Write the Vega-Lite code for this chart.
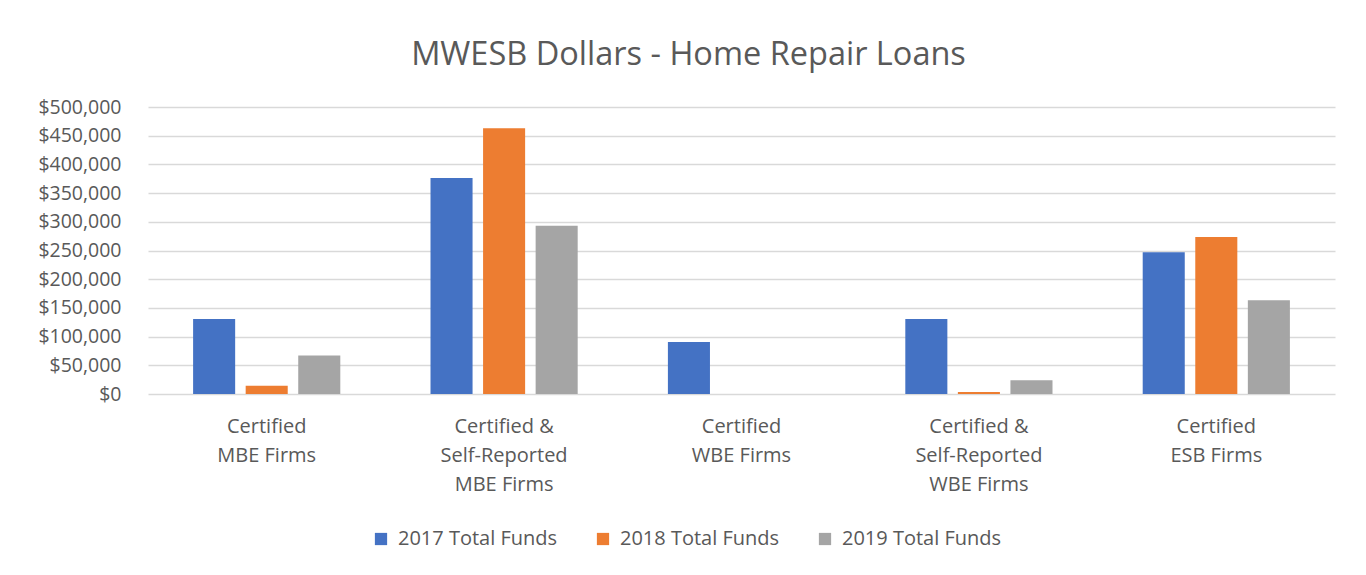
{
  "$schema": "https://vega.github.io/schema/vega-lite/v6.json",
  "autosize": {"type": "none"},
  "width": 1187,
  "height": 287,
  "padding": {"left": 148, "top": 107, "right": 31, "bottom": 181},
  "background": "white",
  "title": {
    "text": "MWESB Dollars - Home Repair Loans",
    "font": "Open Sans",
    "fontSize": 32.5,
    "fontWeight": "normal",
    "color": "#595959",
    "anchor": "middle",
    "dx": -53,
    "offset": 26
  },
  "data": {
    "values": [
      {"category": "Certified MBE Firms", "series": "2017 Total Funds", "amount": 130500},
      {"category": "Certified MBE Firms", "series": "2018 Total Funds", "amount": 14500},
      {"category": "Certified MBE Firms", "series": "2019 Total Funds", "amount": 67000},
      {"category": "Certified & Self-Reported MBE Firms", "series": "2017 Total Funds", "amount": 376500},
      {"category": "Certified & Self-Reported MBE Firms", "series": "2018 Total Funds", "amount": 463000},
      {"category": "Certified & Self-Reported MBE Firms", "series": "2019 Total Funds", "amount": 293000},
      {"category": "Certified WBE Firms", "series": "2017 Total Funds", "amount": 90500},
      {"category": "Certified WBE Firms", "series": "2018 Total Funds", "amount": 0},
      {"category": "Certified WBE Firms", "series": "2019 Total Funds", "amount": 0},
      {"category": "Certified & Self-Reported WBE Firms", "series": "2017 Total Funds", "amount": 130500},
      {"category": "Certified & Self-Reported WBE Firms", "series": "2018 Total Funds", "amount": 3500},
      {"category": "Certified & Self-Reported WBE Firms", "series": "2019 Total Funds", "amount": 24000},
      {"category": "Certified ESB Firms", "series": "2017 Total Funds", "amount": 247000},
      {"category": "Certified ESB Firms", "series": "2018 Total Funds", "amount": 273500},
      {"category": "Certified ESB Firms", "series": "2019 Total Funds", "amount": 163500}
    ]
  },
  "mark": {"type": "bar"},
  "encoding": {
    "x": {
      "field": "category",
      "type": "nominal",
      "sort": null,
      "scale": {"paddingInner": 0.38, "paddingOuter": 0.19},
      "axis": {
        "title": null,
        "labelAngle": 0,
        "domain": false,
        "ticks": false,
        "labelFont": "Open Sans",
        "labelFontSize": 20,
        "labelColor": "#595959",
        "labelLineHeight": 29,
        "labelPadding": 22,
        "labelExpr": "datum.label == 'Certified MBE Firms' ? ['Certified', 'MBE Firms'] : datum.label == 'Certified & Self-Reported MBE Firms' ? ['Certified &', 'Self-Reported', 'MBE Firms'] : datum.label == 'Certified WBE Firms' ? ['Certified', 'WBE Firms'] : datum.label == 'Certified & Self-Reported WBE Firms' ? ['Certified &', 'Self-Reported', 'WBE Firms'] : ['Certified', 'ESB Firms']"
      }
    },
    "xOffset": {
      "field": "series",
      "type": "nominal",
      "scale": {"paddingInner": 0.2, "paddingOuter": 0}
    },
    "y": {
      "field": "amount",
      "type": "quantitative",
      "scale": {"domain": [0, 500000], "nice": false},
      "axis": {
        "title": null,
        "values": [0, 50000, 100000, 150000, 200000, 250000, 300000, 350000, 400000, 450000, 500000],
        "format": "$,.0f",
        "domain": false,
        "ticks": false,
        "labelFont": "Open Sans",
        "labelFontSize": 19.5,
        "labelColor": "#595959",
        "labelPadding": 27,
        "gridColor": "#D9D9D9",
        "gridWidth": 1.3
      }
    },
    "color": {
      "field": "series",
      "type": "nominal",
      "scale": {
        "domain": ["2017 Total Funds", "2018 Total Funds", "2019 Total Funds"],
        "range": ["#4472C4", "#ED7D31", "#A5A5A5"]
      },
      "legend": {
        "title": null,
        "orient": "none",
        "legendX": 223,
        "legendY": 422,
        "direction": "horizontal",
        "symbolType": "square",
        "symbolSize": 150,
        "symbolStrokeWidth": 0,
        "labelFont": "Open Sans",
        "labelFontSize": 20,
        "labelColor": "#595959",
        "labelOffset": 7,
        "columnPadding": 35
      }
    }
  },
  "config": {
    "view": {"stroke": null}
  }
}
